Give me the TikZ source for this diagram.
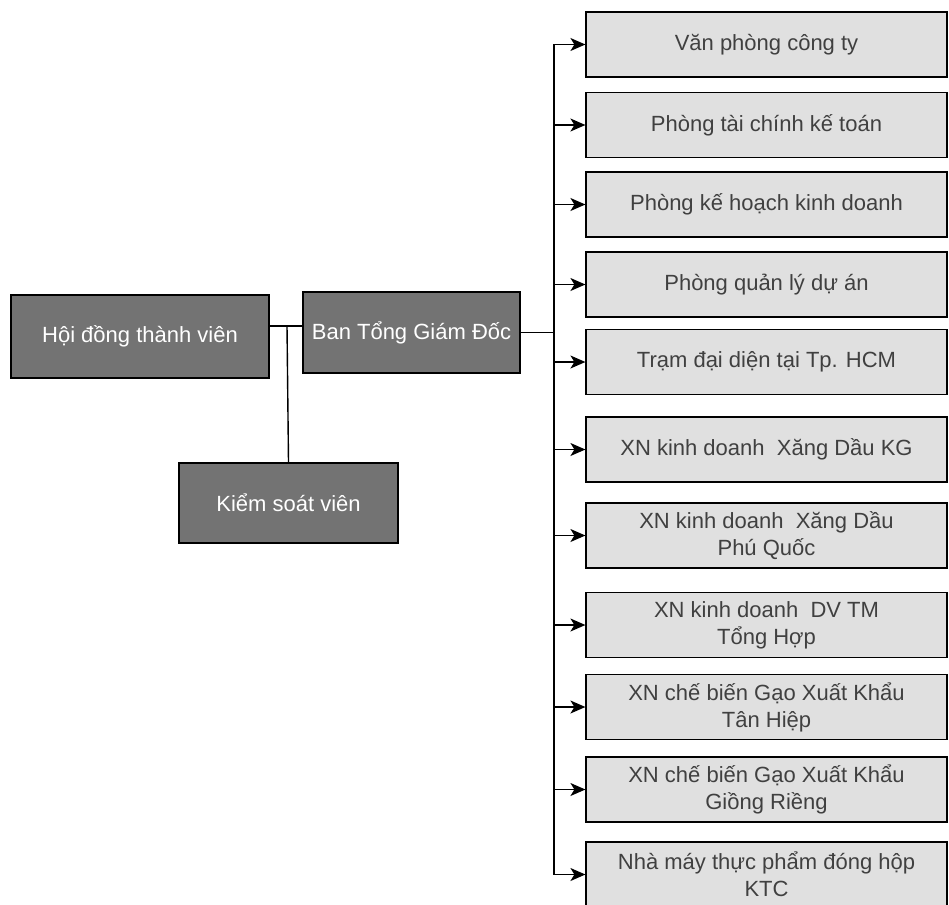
\documentclass[tikz,border=0pt]{standalone}
\usepackage{fontspec}
\setmainfont{Liberation Sans}
\usetikzlibrary{arrows.meta}
\tikzstyle{leitung}=[draw=black, fill=black!55, text=white, font=\fontsize{22}{27}\selectfont, line width=1.2pt, inner sep=0pt]
\tikzstyle{abteilung}=[draw=black, fill=black!12, text=black!75, font=\fontsize{22}{27}\selectfont, align=center, minimum width=361pt, minimum height=65pt, line width=1.2pt, inner sep=0pt]
\tikzstyle{linie}=[line width=1.4pt]
\tikzstyle{pfeil}=[linie, -{Stealth[length=15pt,width=13pt,inset=4pt]}]

\begin{document}
\begin{tikzpicture}[x=1pt,y=-1pt]
			% Rahmen festlegen
			\useasboundingbox (0,0) rectangle (949,904);
			% Leitung zeichnen
			\node[leitung, minimum width=258pt, minimum height=83pt] (hdtv) at (140,336.5) {Hội đồng thành viên};
			\node[leitung, minimum width=217pt, minimum height=81pt] (bgd) at (411.5,332.5) {Ban Tổng Giám Đốc};
			\node[leitung, minimum width=219pt, minimum height=80pt] (ksv) at (288.5,503) {Kiểm soát viên};
			% Abteilungen zeichnen
			\foreach \y/\txt [count=\i] in {44.5/{Văn phòng công ty}, 125/{Phòng tài chính kế toán}, 204.5/{Phòng kế hoạch kinh doanh}, 284.5/{Phòng quản lý dự án}, 362/{Trạm đại diện tại Tp. HCM}, 449.5/{XN kinh doanh~ Xăng Dầu KG}, 535.5/{XN kinh doanh~ Xăng Dầu\\Phú Quốc}, 625/{XN kinh doanh~ DV TM\\Tổng Hợp}, 707/{XN chế biến Gạo Xuất Khẩu\\Tân Hiệp}, 789.5/{XN chế biến Gạo Xuất Khẩu\\Giồng Riềng}, 874.5/{Nhà máy thực phẩm đóng hộp\\KTC}}
				\node[abteilung] (r\i) at (766.5,\y) {\txt};
			% Verbindungen zeichnen
			\coordinate (knoten) at (287,326);
			\coordinate (stamm) at (554,0);
			\draw[linie] (hdtv.east |- knoten) -- (bgd.west |- knoten);
			\draw[linie] (knoten) -- (ksv.north);
			\draw[linie] (bgd.east) -- (bgd.east -| stamm);
			\draw[linie] (r1.west -| stamm) -- (r11.west -| stamm);
			\foreach \i in {1,...,11}
				\draw[pfeil] (r\i.west -| stamm) -- (r\i.west);
		\end{tikzpicture}
\end{document}
